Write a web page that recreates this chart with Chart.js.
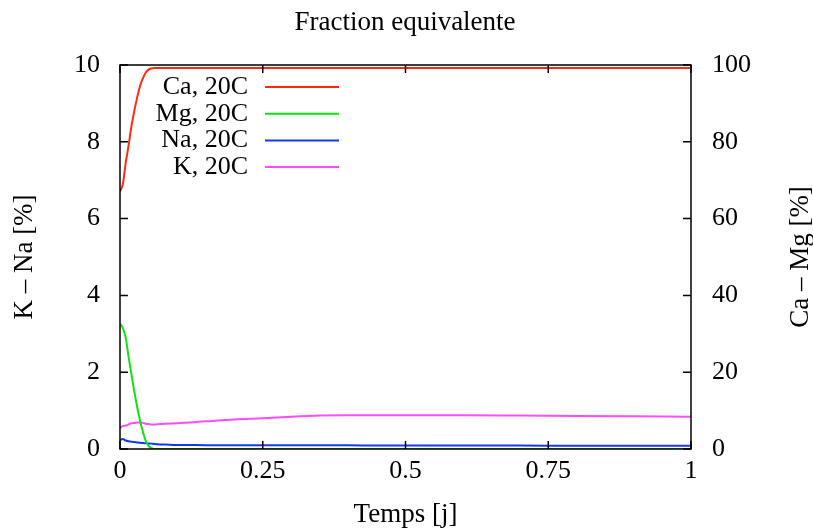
<!DOCTYPE html>
<html>
<head>
<meta charset="utf-8">
<title>Fraction equivalente</title>
<script src="https://cdn.jsdelivr.net/npm/chart.js@4.4.1/dist/chart.umd.min.js"></script>
<style>
  html, body { margin: 0; padding: 0; background: #fff; }
  #wrap { width: 813px; height: 528px; }
</style>
</head>
<body>
<div id="wrap"><canvas id="chart" width="813" height="528"></canvas></div>
<script>
// time axis [j]
const times = [0, 0.005, 0.01, 0.015, 0.02, 0.025, 0.03, 0.035, 0.04, 0.045, 0.05, 0.055, 0.06,
               0.07, 0.08, 0.1, 0.15, 0.2, 0.25, 0.3, 0.35, 0.4, 0.45, 0.5, 0.6, 0.7, 0.8, 0.9, 1.0];

// right axis (Ca - Mg) [%]
const caValues = [67, 69, 74.5, 79, 84, 88, 91.5, 94.5, 96.5, 98, 98.8, 99.1, 99.2,
                  99.2, 99.2, 99.2, 99.2, 99.2, 99.2, 99.2, 99.2, 99.2, 99.2, 99.2, 99.2, 99.2, 99.2, 99.2, 99.2];
const mgValues = [32.6, 31.5, 29, 24, 19.5, 15, 11, 7.5, 4.5, 2.2, 0.8, 0.2, 0,
                  0, 0, 0, 0, 0, 0, 0, 0, 0, 0, 0, 0, 0, 0, 0, 0];

// left axis (K - Na) [%]
const naValues = [0.23, 0.26, 0.22, 0.2, 0.19, 0.18, 0.17, 0.16, 0.155, 0.15, 0.145, 0.14, 0.13,
                  0.12, 0.115, 0.105, 0.1, 0.095, 0.095, 0.095, 0.095, 0.095, 0.09, 0.09, 0.09, 0.09, 0.085, 0.085, 0.085];
const kValues = [0.55, 0.6, 0.61, 0.64, 0.67, 0.68, 0.69, 0.69, 0.68, 0.66, 0.65, 0.64, 0.64,
                 0.65, 0.66, 0.67, 0.72, 0.77, 0.8, 0.84, 0.87, 0.88, 0.88, 0.88, 0.88, 0.87, 0.86, 0.85, 0.84];

const xTicks = [0, 0.25, 0.5, 0.75, 1];
const seriesLabels = ['Ca, 20C', 'Mg, 20C', 'Na, 20C', 'K, 20C'];
const seriesColors = ['#ff2a10', '#14e014', '#1438f0', '#ff4cff'];

const FONT = "'Liberation Serif', 'DejaVu Serif', serif";

function toPoints(values) {
    return times.map((t, i) => ({ x: t, y: values[i] }));
}

// gnuplot-like frame, inside ticks, legend and right axis title
const gnuplotLook = {
    id: 'gnuplotLook',
    afterDraw(chart) {
        const ctx = chart.ctx;
        const area = chart.chartArea;
        const xs = chart.scales.x, yl = chart.scales.yLeft, yr = chart.scales.yRight;
        const tick = 8;
        ctx.save();
        ctx.strokeStyle = '#000';
        ctx.lineWidth = 1.5;
        ctx.strokeRect(area.left, area.top, area.right - area.left, area.bottom - area.top);

        ctx.beginPath();
        xTicks.forEach(v => {
            const px = xs.getPixelForValue(v);
            ctx.moveTo(px, area.bottom); ctx.lineTo(px, area.bottom - tick);
            ctx.moveTo(px, area.top); ctx.lineTo(px, area.top + tick);
        });
        yl.ticks.forEach(t => {
            const py = yl.getPixelForValue(t.value);
            ctx.moveTo(area.left, py); ctx.lineTo(area.left + tick, py);
        });
        yr.ticks.forEach(t => {
            const py = yr.getPixelForValue(t.value);
            ctx.moveTo(area.right, py); ctx.lineTo(area.right - tick, py);
        });
        ctx.stroke();

        // legend: text right aligned, sample line to the right
        ctx.font = '26px ' + FONT;
        ctx.textAlign = 'right';
        ctx.textBaseline = 'middle';
        chart.data.datasets.forEach((ds, i) => {
            const y = 87 + i * 26.7;
            ctx.fillStyle = '#000';
            ctx.fillText(ds.label, 248, y);
            ctx.strokeStyle = ds.borderColor;
            ctx.lineWidth = 2;
            ctx.beginPath();
            ctx.moveTo(265, y);
            ctx.lineTo(339, y);
            ctx.stroke();
        });

        // right axis title, reading bottom to top
        ctx.font = '27px ' + FONT;
        ctx.translate(801, (area.top + area.bottom) / 2);
        ctx.rotate(-Math.PI / 2);
        ctx.textAlign = 'center';
        ctx.fillStyle = '#000';
        ctx.fillText('Ca – Mg [%]', 0, 0);
        ctx.restore();
    }
};

new Chart(document.getElementById('chart'), {
    type: 'line',
    data: {
        datasets: [
            { label: seriesLabels[0], data: toPoints(caValues), yAxisID: 'yRight', borderColor: seriesColors[0] },
            { label: seriesLabels[1], data: toPoints(mgValues), yAxisID: 'yRight', borderColor: seriesColors[1] },
            { label: seriesLabels[2], data: toPoints(naValues), yAxisID: 'yLeft', borderColor: seriesColors[2] },
            { label: seriesLabels[3], data: toPoints(kValues), yAxisID: 'yLeft', borderColor: seriesColors[3] }
        ]
    },
    options: {
        responsive: false,
        animation: false,
        layout: { padding: { top: 65, left: 0, right: 0, bottom: 0 } },
        elements: {
            point: { radius: 0 },
            line: { borderWidth: 2, tension: 0.3, cubicInterpolationMode: 'monotone' }
        },
        plugins: {
            legend: { display: false },
            tooltip: { enabled: false },
            title: { display: false }
        },
        scales: {
            x: {
                type: 'linear',
                min: 0, max: 1,
                afterBuildTicks: s => { s.ticks = xTicks.map(v => ({ value: v })); },
                afterFit: s => { s.height = 79; },
                grid: { display: false, drawTicks: false },
                border: { display: false },
                ticks: {
                    font: { family: FONT, size: 26 }, color: '#000', padding: 7,
                    maxRotation: 0,
                    callback: v => String(v)
                },
                title: { display: true, text: 'Temps [j]', font: { family: FONT, size: 27 }, color: '#000', padding: { top: 0, bottom: -3 } }
            },
            yLeft: {
                type: 'linear', position: 'left',
                min: 0, max: 10,
                ticks: { stepSize: 2, font: { family: FONT, size: 26 }, color: '#000', padding: 20 },
                afterFit: s => { s.width = 120; },
                grid: { display: false, drawTicks: false },
                border: { display: false },
                title: { display: true, text: 'K – Na [%]', font: { family: FONT, size: 27 }, color: '#000', padding: { top: 9, bottom: 0 } }
            },
            yRight: {
                type: 'linear', position: 'right',
                min: 0, max: 100,
                ticks: { stepSize: 20, font: { family: FONT, size: 26 }, color: '#000', padding: 21 },
                afterFit: s => { s.width = 122; },
                grid: { display: false, drawTicks: false },
                border: { display: false }
            }
        }
    },
    plugins: [gnuplotLook, {
        id: 'topTitle',
        afterDraw(chart) {
            const ctx = chart.ctx;
            ctx.save();
            ctx.font = '27px ' + FONT;
            ctx.textAlign = 'center';
            ctx.textBaseline = 'middle';
            ctx.fillStyle = '#000';
            ctx.fillText('Fraction equivalente', 405, 23);
            ctx.restore();
        }
    }]
});
</script>
</body>
</html>
